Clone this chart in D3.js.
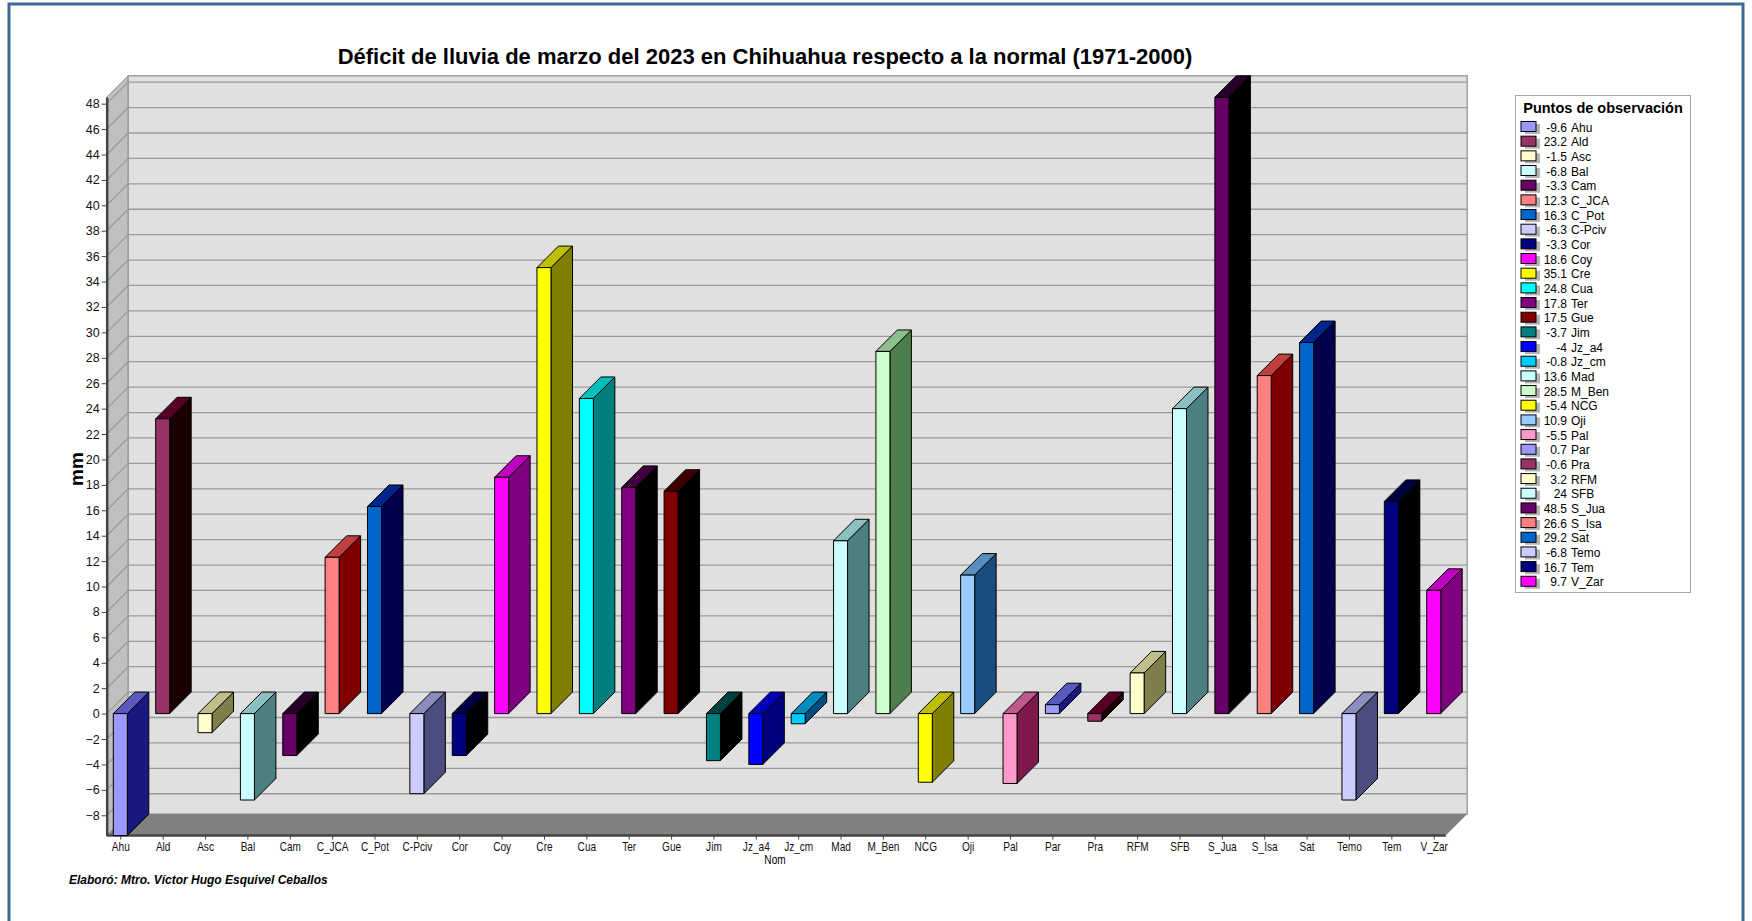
<!DOCTYPE html>
<html>
<head>
<meta charset="utf-8">
<script src="https://cdn.jsdelivr.net/npm/d3@7/dist/d3.min.js"></script>
<style>
body {margin:0; background:#fff}
svg {display:block; font-family: Arial, "Liberation Sans", sans-serif}
</style>
</head>
<body>
<svg id="chart" width="1752" height="921"></svg>
<script>
/*** Data ***/
const names  = ["Ahu","Ald","Asc","Bal","Cam","C_JCA","C_Pot","C-Pciv","Cor","Coy","Cre","Cua","Ter","Gue","Jim","Jz_a4",
                "Jz_cm","Mad","M_Ben","NCG","Oji","Pal","Par","Pra","RFM","SFB","S_Jua","S_Isa","Sat","Temo","Tem","V_Zar"]
const values = [-9.6, 23.2, -1.5, -6.8, -3.3, 12.3, 16.3, -6.3, -3.3, 18.6, 35.1, 24.8, 17.8, 17.5, -3.7, -4,
                -0.8, 13.6, 28.5, -5.4, 10.9, -5.5, 0.7, -0.6, 3.2, 24, 48.5, 26.6, 29.2, -6.8, 16.7, 9.7]
const colors = ["#9999FF","#993366","#FFFFCC","#CCFFFF","#660066","#FF8080","#0066CC","#CCCCFF","#000080","#FF00FF","#FFFF00",
                "#00FFFF","#800080","#800000","#008080","#0000FF","#00CCFF","#CCFFFF","#CCFFCC","#FFFF00","#99CCFF","#FF99CC",
                "#9999FF","#993366","#FFFFCC","#CCFFFF","#660066","#FF8080","#0066CC","#CCCCFF","#000080","#FF00FF"]
const yTicks = [-8,-6,-4,-2,0,2,4,6,8,10,12,14,16,18,20,22,24,26,28,30,32,34,36,38,40,42,44,46,48]
const yDomain = [-9.6, 48.5]

const TITLE  = "Déficit de lluvia de marzo del 2023 en Chihuahua respecto a la normal (1971-2000)"
const LEGEND = "Puntos de observación"
const CREDIT = "Elaboró: Mtro. Víctor Hugo Esquivel Ceballos"

/*** Layout ***/
const DEPTH = 21.5
const BARW  = 14
const WL = 106.7, WR = 1445.7

var svg = d3.select("#chart")
var y = d3.scaleLinear().domain(yDomain).range([835.6, 97.3])
var x = d3.scalePoint().domain(names).range([120.3, 1433.7])

function shade(c, k) {
	var r = d3.rgb(c)
	return d3.rgb(Math.max(0, r.r - k), Math.max(0, r.g - k), Math.max(0, r.b - k)).formatHex()
}
function pts(a) {return a.map(p => p.join(",")).join(" ")}

// outer frame
svg.append("rect").attr("x", 9).attr("y", 4).attr("width", 1734).attr("height", 940)
	.attr("fill", "none").attr("stroke", "#3b6894").attr("stroke-width", 3)

// walls
var yTop = y(yDomain[1]), yBot = y(yDomain[0])
svg.append("polygon")
	.attr("points", pts([[WL, yTop], [WL+DEPTH, yTop-DEPTH], [WL+DEPTH, yBot-DEPTH], [WL, yBot]]))
	.attr("fill", "#c0c0c0").attr("stroke", "#8c8c8c")
svg.append("rect")
	.attr("x", WL+DEPTH).attr("y", yTop-DEPTH).attr("width", WR-WL).attr("height", yBot-yTop)
	.attr("fill", "#e0e0e0").attr("stroke", "#a0a0a0").attr("stroke-width", 1.5)
svg.append("polygon")
	.attr("points", pts([[WL, yBot], [WL+DEPTH, yBot-DEPTH], [WR+DEPTH, yBot-DEPTH], [WR, yBot]]))
	.attr("fill", "#808080")

// gridlines
var grid = svg.append("g").attr("stroke", "#9a9a9a").attr("stroke-width", 1.3)
grid.selectAll("line.h").data(yTicks).enter().append("line")
	.attr("x1", WL+DEPTH).attr("x2", WR+DEPTH)
	.attr("y1", d => y(d)-DEPTH).attr("y2", d => y(d)-DEPTH)
grid.selectAll("line.d").data(yTicks).enter().append("line")
	.attr("x1", WL).attr("x2", WL+DEPTH)
	.attr("y1", d => y(d)).attr("y2", d => y(d)-DEPTH)

// axes
var yAxis = svg.append("g").attr("transform", "translate("+WL+",0)")
	.call(d3.axisLeft(y).tickValues(yTicks).tickSize(5).tickSizeOuter(0).tickPadding(2))
yAxis.select(".domain").attr("stroke", "#444").attr("stroke-width", 2.5)
yAxis.selectAll(".tick line").attr("stroke", "#444")
yAxis.selectAll("text").attr("font-size", 12.5).attr("fill", "#111").attr("font-family", "Arial, 'Liberation Sans', sans-serif")

svg.append("line").attr("x1", WL).attr("x2", WR).attr("y1", yBot).attr("y2", yBot)
	.attr("stroke", "#444").attr("stroke-width", 2.5)
var xAxis = svg.append("g").attr("transform", "translate(0,"+yBot+")")
	.call(d3.axisBottom(x).tickSize(4).tickSizeOuter(0).tickPadding(3))
xAxis.select(".domain").remove()
xAxis.selectAll(".tick line").attr("stroke", "#444")
xAxis.selectAll("text").attr("font-size", 12).attr("fill", "#111")
	.attr("font-family", "Arial, 'Liberation Sans', sans-serif")
	.attr("transform", "scale(0.84,1)")

// bars
var bars = svg.append("g").attr("stroke", "#000").attr("stroke-width", 1).attr("stroke-linejoin", "round")
	.selectAll("g").data(names).enter().append("g")
bars.each(function(n, i) {
	var g = d3.select(this)
	var v = values[i], c = colors[i]
	var x0 = x(n) - BARW/2, x1 = x0 + BARW
	var t = y(Math.max(0, v)), b = y(Math.min(0, v))
	g.append("polygon").attr("fill", shade(c, 128))
		.attr("points", pts([[x1, t], [x1+DEPTH, t-DEPTH], [x1+DEPTH, b-DEPTH], [x1, b]]))
	g.append("polygon").attr("fill", shade(c, 64))
		.attr("points", pts([[x0, t], [x1, t], [x1+DEPTH, t-DEPTH], [x0+DEPTH, t-DEPTH]]))
	g.append("rect").attr("fill", c)
		.attr("x", x0).attr("y", t).attr("width", BARW).attr("height", b-t)
})

// titles
svg.append("text").attr("x", 765).attr("y", 64).attr("text-anchor", "middle")
	.attr("font-size", 22).attr("font-weight", "bold").attr("fill", "#000").text(TITLE)
svg.append("text").attr("transform", "translate(83,469) rotate(-90)").attr("text-anchor", "middle")
	.attr("font-size", 19).attr("font-weight", "bold").text("mm")
svg.append("text").attr("transform", "translate(775,864) scale(0.84,1)").attr("text-anchor", "middle")
	.attr("font-size", 12).text("Nom")
svg.append("text").attr("x", 69).attr("y", 884)
	.attr("font-size", 12).attr("font-weight", "bold").attr("font-style", "italic").text(CREDIT)

// legend
var lg = svg.append("g")
lg.append("rect").attr("x", 1515.5).attr("y", 95.5).attr("width", 175).attr("height", 497)
	.attr("fill", "#fff").attr("stroke", "#a8a8a8")
lg.append("text").attr("x", 1603).attr("y", 113).attr("text-anchor", "middle")
	.attr("font-size", 14.5).attr("font-weight", "bold").text(LEGEND)
var items = lg.selectAll("g.item").data(names).enter().append("g")
	.attr("transform", (d, i) => "translate(0," + (127 + i*14.67) + ")")
items.append("rect").attr("x", 1525).attr("y", -3).attr("width", 15).attr("height", 10).attr("fill", "#b4b4b4")
items.append("rect").attr("x", 1521).attr("y", -5.5).attr("width", 15).attr("height", 10)
	.attr("fill", (d, i) => colors[i]).attr("stroke", "#000").attr("stroke-width", 1)
items.append("text").attr("x", 1567).attr("y", 4.5).attr("text-anchor", "end").attr("font-size", 12)
	.text((d, i) => values[i])
items.append("text").attr("x", 1571).attr("y", 4.5).attr("font-size", 12).text(d => d)
</script>
</body>
</html>
